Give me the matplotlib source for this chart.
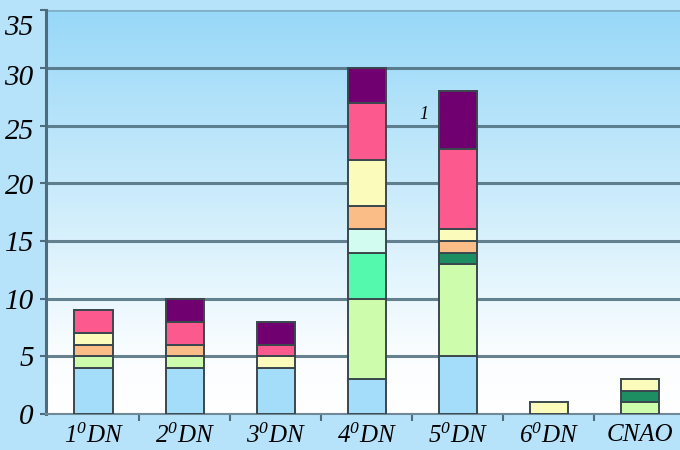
import matplotlib.pyplot as plt
import matplotlib.transforms as mtransforms
import numpy as np
from matplotlib.colors import LinearSegmentedColormap

plt.rcParams['font.family'] = ['Liberation Serif', 'DejaVu Serif']
plt.rcParams['mathtext.fontset'] = 'custom'
plt.rcParams['mathtext.it'] = 'Liberation Serif:italic'
plt.rcParams['mathtext.rm'] = 'Liberation Serif:italic'
plt.rcParams['mathtext.default'] = 'it'

categories = ['1$^0$DN', '2$^0$DN', '3$^0$DN', '4$^0$DN', '5$^0$DN', '6$^0$DN', 'CNAO']

# stacked series, bottom to top
blue = [4, 4, 4, 3, 5, 0, 0]
lightGreen = [1, 1, 0, 7, 8, 0, 1]
mint = [0, 0, 0, 4, 0, 0, 0]
darkGreen = [0, 0, 0, 0, 1, 0, 1]
cyan = [0, 0, 0, 2, 0, 0, 0]
peach = [1, 1, 0, 2, 1, 0, 0]
yellow = [1, 0, 1, 4, 1, 1, 1]
pink = [2, 2, 1, 5, 7, 0, 0]
purple = [0, 2, 2, 3, 5, 0, 0]

series = [blue, lightGreen, mint, darkGreen, cyan, peach, yellow, pink, purple]
colors = ['#a3ddf9', '#cdfcad', '#55f9ad', '#1c8e62', '#d2fcf0',
          '#fbbd88', '#fbfcbb', '#fc5a8e', '#700070']

yTicks = [0, 5, 10, 15, 20, 25, 30, 35]


def Main():
    fig = plt.figure(figsize=(6.8, 4.5), dpi=100)
    fig.patch.set_facecolor('#b7e3fa')
    ax = fig.add_axes([0.068, 0.08, 0.94, 0.897])

    x = np.arange(len(categories))
    ax.set_xlim(-0.52, 6.5)
    ax.set_ylim(0, 35)

    # background gradient: white at bottom, blue at top
    cmap = LinearSegmentedColormap.from_list(
        'bg', [(0, '#ffffff'), (0.15, '#fafdff'), (0.45, '#d6f0fc'), (1, '#98d8f8')])
    grad = np.linspace(0, 1, 256).reshape(-1, 1)
    ax.imshow(grad, cmap=cmap, aspect='auto', origin='lower',
              extent=[-0.52, 6.5, 0, 35], zorder=0)

    for y in yTicks[1:-1]:
        ax.axhline(y, color='#4d6c7c', linewidth=2.2, alpha=0.85, zorder=1)
    ax.axhline(35, color='#7fb0c8', linewidth=2, zorder=1)

    bottom = np.zeros(len(categories))
    for values, color in zip(series, colors):
        values = np.array(values, dtype=float)
        mask = values > 0
        ax.bar(x[mask], values[mask], width=0.42, bottom=bottom[mask], color=color,
               edgecolor='#3a484e', linewidth=1.4, zorder=3)
        bottom += values

    ax.text(3.63, 26, '1', fontsize=13, style='italic', ha='center', va='center', zorder=4)

    for side in ['top', 'right']:
        ax.spines[side].set_visible(False)
    ax.spines['left'].set_color('#4d6c7c')
    ax.spines['left'].set_linewidth(2.2)
    ax.spines['bottom'].set_color('#6f8a96')
    ax.spines['bottom'].set_linewidth(1.5)

    ax.set_yticks(yTicks)
    ax.set_yticklabels([str(v) for v in yTicks], fontsize=21, style='italic')
    ax.tick_params(axis='y', length=4, width=1.5, color='#4d6c7c', pad=5)

    # the upper labels sit a little below their lines in the original
    shifts = [0, 0, 0, 0, 1, 3, 7, 15]
    for label, s in zip(ax.get_yticklabels(), shifts):
        label.set_transform(label.get_transform() +
                            mtransforms.ScaledTranslation(0, -s / 100, fig.dpi_scale_trans))

    ax.set_xticks(x)
    ax.set_xticklabels(categories, fontsize=18, style='italic')
    ax.set_xticks(x[:-1] + 0.5, minor=True)
    ax.tick_params(axis='x', which='major', length=0, pad=7)
    ax.tick_params(axis='x', which='minor', length=5, width=1.5, color='#4d6c7c')

    fig.savefig('out.png', dpi=100, facecolor=fig.get_facecolor())


Main()
